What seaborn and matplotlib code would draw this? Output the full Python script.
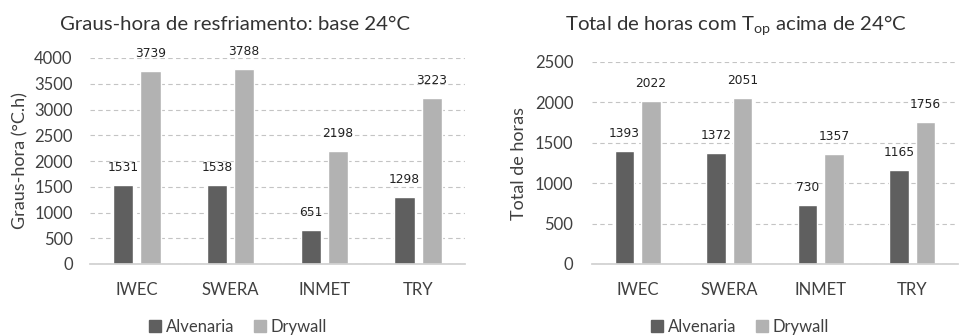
import matplotlib
matplotlib.use("Agg")
import matplotlib.pyplot as plt
import seaborn as sns
import pandas as pd

# dados
arquivos = ["IWEC", "SWERA", "INMET", "TRY"]
sistemas = ["Alvenaria", "Drywall"]
gh_alvenaria = [1531, 1538, 651, 1298]
gh_drywall = [3739, 3788, 2198, 3223]
horas_alvenaria = [1393, 1372, 730, 1165]
horas_drywall = [2022, 2051, 1357, 1756]

cores = ["#5f5f5f", "#b2b2b2"]
texto = "#404040"

sns.set_theme(style="white")
plt.rcParams["font.family"] = ["Lato", "DejaVu Sans"]
plt.rcParams["mathtext.fontset"] = "custom"
plt.rcParams["mathtext.rm"] = "Lato"
plt.rcParams["mathtext.it"] = "Lato"


def monta(a, d):
    return pd.DataFrame({
        "arquivo": arquivos * 2,
        "sistema": [sistemas[0]] * 4 + [sistemas[1]] * 4,
        "valor": a + d,
    })


def grafico(ax, df, ymax, passo, ylabel, ypad):
    sns.barplot(data=df, x="arquivo", y="valor", hue="sistema", palette=cores,
                width=0.58, gap=0.26, saturation=1, ax=ax, legend=False)
    for c in ax.containers:
        ax.bar_label(c, fmt="%d", padding=8, fontsize=8.8, color="#222222",
                     family="DejaVu Sans")
    ax.set_ylim(0, ymax)
    ax.set_xlim(-0.5, 3.5)
    ax.set_yticks(range(0, ymax + 1, passo))
    ax.yaxis.grid(True, linestyle=(0, (4, 3)), color="#c4c4c4", linewidth=0.8)
    ax.set_axisbelow(True)
    for s in ["top", "right", "left"]:
        ax.spines[s].set_visible(False)
    ax.spines["bottom"].set_color("#d0d0d0")
    ax.tick_params(axis="both", length=0, labelsize=12, colors=texto)
    ax.tick_params(axis="x", pad=13)
    ax.tick_params(axis="y", pad=ypad)
    ax.set_xlabel("")
    ax.set_ylabel(ylabel, fontsize=13, color=texto)


fig = plt.figure(figsize=(9.6, 3.35), dpi=100)
ax1 = fig.add_axes([90 / 960, 1 - 264 / 335, 375 / 960, 206 / 335])
ax2 = fig.add_axes([592 / 960, 1 - 264 / 335, 366 / 960, 202 / 335])

grafico(ax1, monta(gh_alvenaria, gh_drywall), 4000, 500, "Graus-hora (°C.h)", 12.5)
grafico(ax2, monta(horas_alvenaria, horas_drywall), 2500, 500, "Total de horas", 13.5)
ax1.yaxis.set_label_coords(-0.163, 0.5)
ax2.yaxis.set_label_coords(-0.178, 0.5)

fig.text(235 / 960, 1 - 25 / 335, "Graus-hora de resfriamento: base 24°C",
         ha="center", va="center", fontsize=14.7, color="#333333")
fig.text(736 / 960, 1 - 25 / 335, r"Total de horas com T$_{\mathrm{op}}$ acima de 24°C",
         ha="center", va="center", fontsize=14.7, color="#333333")

handles = [plt.Rectangle((0, 0), 1, 1, color=c) for c in cores]
for cx in (238 / 960, 740 / 960):
    fig.legend(handles, sistemas, loc="center", bbox_to_anchor=(cx, 1 - 327 / 335),
               ncol=2, frameon=False, fontsize=12, handlelength=0.7, handleheight=0.7,
               handletextpad=0.3, columnspacing=1.2, labelcolor=texto)

fig.savefig("out.png", dpi=100)
